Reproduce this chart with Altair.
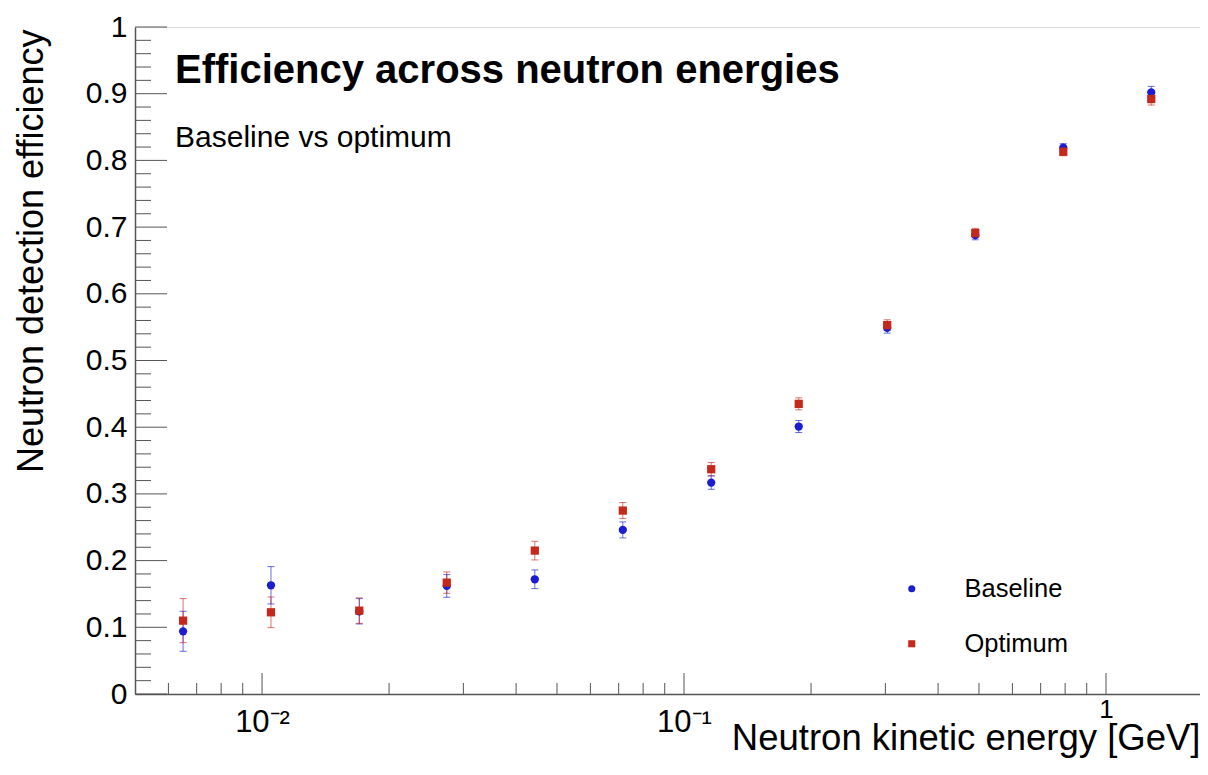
import altair as alt
import pandas as pd

# ---- data ----
energy = [0.0065, 0.0105, 0.017, 0.0274, 0.0443, 0.0716, 0.116, 0.187, 0.303, 0.49, 0.792, 1.28]
baseline = [0.094, 0.163, 0.124, 0.162, 0.172, 0.246, 0.317, 0.401, 0.549, 0.688, 0.819, 0.902]
baseline_err = [0.030, 0.028, 0.019, 0.017, 0.014, 0.012, 0.010, 0.009, 0.008, 0.007, 0.006, 0.009]
optimum = [0.110, 0.1225, 0.125, 0.167, 0.215, 0.275, 0.337, 0.435, 0.553, 0.691, 0.813, 0.892]
optimum_err = [0.033, 0.023, 0.019, 0.016, 0.014, 0.012, 0.010, 0.009, 0.008, 0.007, 0.006, 0.009]
series_names = ["Baseline", "Optimum"]
series_colors = ["#1c1cd0", "#c42a1c"]
series_shapes = ["circle", "square"]

title_text = "Efficiency across neutron energies"
subtitle_text = "Baseline vs optimum"
x_title = "Neutron kinetic energy [GeV]"
y_title = "Neutron detection efficiency"

x_major = [0.01, 0.1, 1]
x_minor = [0.006, 0.007, 0.008, 0.009,
           0.02, 0.03, 0.04, 0.05, 0.06, 0.07, 0.08, 0.09,
           0.2, 0.3, 0.4, 0.5, 0.6, 0.7, 0.8, 0.9]
y_major = [0, 0.1, 0.2, 0.3, 0.4, 0.5, 0.6, 0.7, 0.8, 0.9, 1.0]
y_minor = [round(i * 0.02, 2) for i in range(51) if i % 5 != 0]

W, H = 1065, 667
FONT = "Liberation Sans"
AXC = "#555555"

rows = []
for name, vals, errs in [("Baseline", baseline, baseline_err), ("Optimum", optimum, optimum_err)]:
    for e, v, s in zip(energy, vals, errs):
        rows.append({"energy": e, "eff": v, "lo": v - s, "hi": v + s, "series": name})
df = pd.DataFrame(rows)

xscale = alt.Scale(type="log", domain=[0.005, 1.67], nice=False)
yscale = alt.Scale(domain=[0, 1], nice=False, zero=False)
cscale = alt.Scale(domain=series_names, range=series_colors)
sscale = alt.Scale(domain=series_names, range=series_shapes)

x_axis = alt.Axis(
    values=x_major,
    labelExpr="datum.value < 0.05 ? '10⁻²' : (datum.value < 0.5 ? '10⁻¹' : '1')",
    labelFontSize={"condition": {"test": "datum.value >= 1", "value": 26}, "value": 31},
    labelPadding={"condition": {"test": "datum.value >= 1", "value": 2}, "value": 13},
    labelFont=FONT, labelColor="black",
    labelBaseline="top", labelFlush=False,
    ticks=False, tickSize=0, grid=False,
    domainColor=AXC, domainWidth=1.5,
    title=x_title, titleFont=FONT, titleFontSize=36.5, titleFontWeight="normal",
    titleColor="black", titleAnchor="end", titleAlign="right",
    titleBaseline="alphabetic", titleX=W, titleY=55,
)
y_axis = alt.Axis(
    values=y_major, format="~g",
    labelFontSize=30, labelFont=FONT, labelColor="black", labelPadding=8,
    labelFlush=False,
    ticks=False, tickSize=0, grid=False,
    domainColor=AXC, domainWidth=1.5,
    title=y_title, titleFont=FONT, titleFontSize=36, titleFontWeight="normal",
    titleColor="black", titleAnchor="end", titleAlign="right", titleAngle=270,
    titleBaseline="alphabetic", titleX=-93, titleY=2,
)
legend = alt.Legend(title=None, orient="none", legendX=764, legendY=549,
                    labelFontSize=25.5, labelFont=FONT, labelColor="black",
                    symbolSize=50, labelOffset=40, rowPadding=28,
                    padding=0, symbolStrokeWidth=0, symbolOpacity=1)


def X(field):
    return alt.X(field, scale=xscale, axis=x_axis)


def Y(field):
    return alt.Y(field, scale=yscale, axis=y_axis)


def C():
    return alt.Color("series:N", scale=cscale, legend=legend)


# ---- inward ticks ----
ymin_df = pd.DataFrame({"v": y_minor})
ymaj_df = pd.DataFrame({"v": y_major})
xmin_df = pd.DataFrame({"v": x_minor})
xmaj_df = pd.DataFrame({"v": x_major})

y_minor_ticks = alt.Chart(ymin_df).mark_rule(color=AXC, strokeWidth=1).encode(
    y=Y("v:Q"), x=alt.value(0), x2=alt.value(16))
y_major_ticks = alt.Chart(ymaj_df).mark_rule(color=AXC, strokeWidth=1).encode(
    y=Y("v:Q"), x=alt.value(0), x2=alt.value(32))
x_minor_ticks = alt.Chart(xmin_df).mark_rule(color=AXC, strokeWidth=1).encode(
    x=X("v:Q"), y=alt.value(H), y2=alt.value(H - 11))
x_major_ticks = alt.Chart(xmaj_df).mark_rule(color=AXC, strokeWidth=1).encode(
    x=X("v:Q"), y=alt.value(H), y2=alt.value(H - 21))

base = alt.Chart(df)

err_rules = base.mark_rule(strokeWidth=1, opacity=0.65).encode(
    x=X("energy:Q"), y=Y("lo:Q"), y2="hi:Q", color=C())
cap_lo = base.mark_tick(orient="horizontal", size=7, thickness=1, opacity=0.65).encode(
    x=X("energy:Q"), y=Y("lo:Q"), color=C())
cap_hi = base.mark_tick(orient="horizontal", size=7, thickness=1, opacity=0.65).encode(
    x=X("energy:Q"), y=Y("hi:Q"), color=C())

points = base.mark_point(filled=True, opacity=1, size=68).encode(
    x=X("energy:Q"), y=Y("eff:Q"), color=C(),
    shape=alt.Shape("series:N", scale=sscale, legend=legend),
    order=alt.Order("series:N"),
)

title_mark = alt.Chart(pd.DataFrame({"t": [title_text]})).mark_text(
    align="left", baseline="alphabetic", fontSize=40, fontWeight="bold", font=FONT, color="black"
).encode(x=alt.value(40), y=alt.value(56), text="t:N")
subtitle_mark = alt.Chart(pd.DataFrame({"t": [subtitle_text]})).mark_text(
    align="left", baseline="alphabetic", fontSize=30, font=FONT, color="black"
).encode(x=alt.value(40), y=alt.value(120), text="t:N")

chart = alt.layer(
    y_minor_ticks, y_major_ticks, x_minor_ticks, x_major_ticks,
    err_rules, cap_lo, cap_hi, points, title_mark, subtitle_mark,
).properties(
    width=W, height=H,
    autosize=alt.AutoSizeParams(type="none"),
    padding={"left": 127, "top": 19, "right": 0, "bottom": 70},
).configure_view(
    stroke=AXC, strokeWidth=1
).configure(background="white")

chart.save("out.html", embed_options={"renderer": "svg", "actions": False})
